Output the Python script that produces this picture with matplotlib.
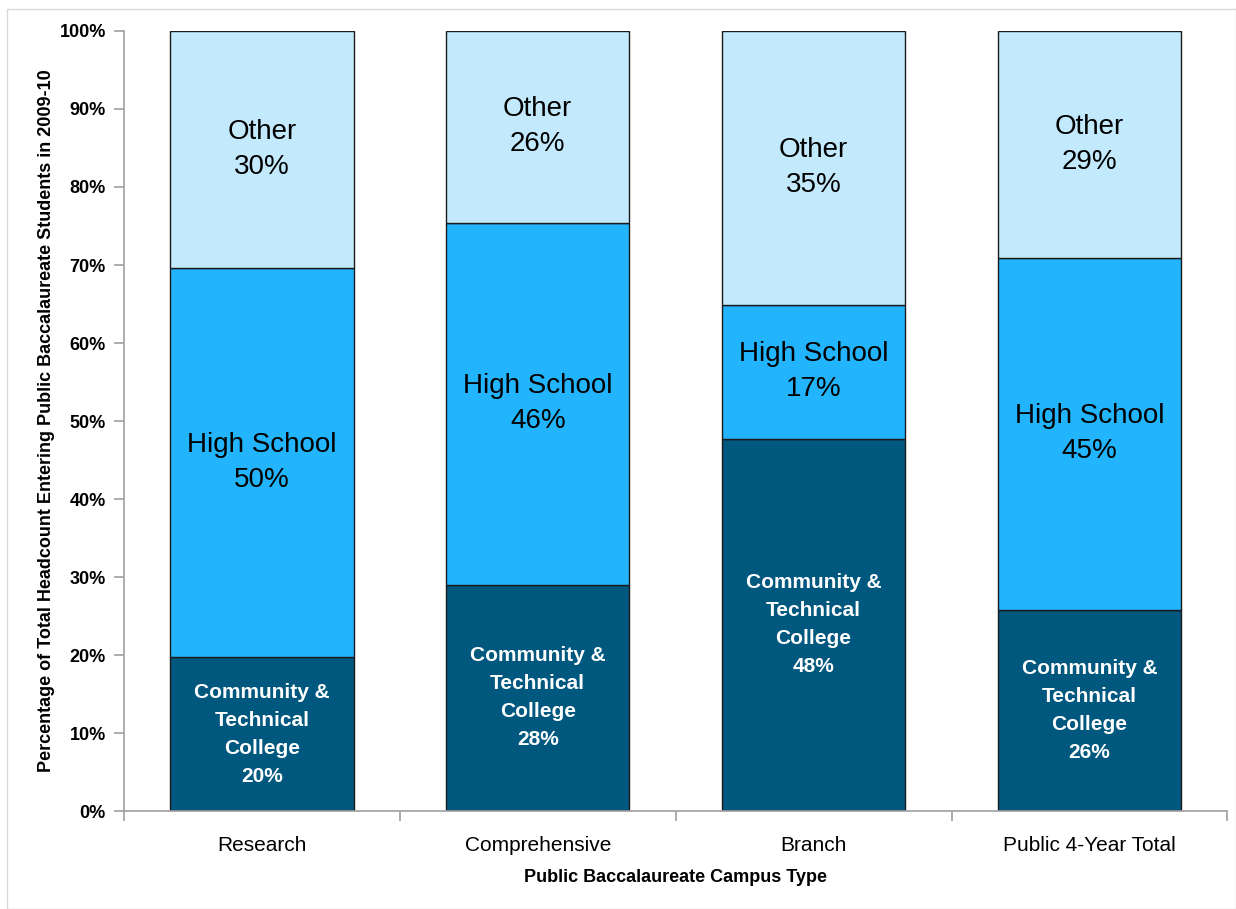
import matplotlib
matplotlib.use('Agg')
import matplotlib.pyplot as plt
from matplotlib.ticker import FixedLocator, PercentFormatter
import numpy as np

plt.rcParams['font.family'] = ['Liberation Sans Narrow', 'Liberation Sans', 'DejaVu Sans']

campus = ["Research", "Comprehensive", "Branch", "Public 4-Year Total"]
# segment heights
ctc = [19.7, 29.0, 47.7, 25.8]
high_school = [49.9, 46.4, 17.2, 45.1]
other = [30.4, 24.6, 35.1, 29.1]
# printed labels
ctc_lbl = ["20%", "28%", "48%", "26%"]
hs_lbl = ["50%", "46%", "17%", "45%"]
other_lbl = ["30%", "26%", "35%", "29%"]

c_dark = '#00587F'
c_mid = '#23B4FE'
c_light = '#C3EAFC'

fig = plt.figure(figsize=(12.36, 9.09), dpi=100)
ax = fig.add_axes([0.1003, 0.1078, 0.8927, 0.8581])

x = np.arange(len(campus))
w = 0.665
ctc = np.array(ctc)
high_school = np.array(high_school)
other = np.array(other)

ax.bar(x, ctc, w, color=c_dark, edgecolor='#1a1a1a', linewidth=1)
ax.bar(x, high_school, w, bottom=ctc, color=c_mid, edgecolor='#1a1a1a', linewidth=1)
ax.bar(x, other, w, bottom=ctc + high_school, color=c_light, edgecolor='#1a1a1a', linewidth=1)

for i in range(len(campus)):
    ax.text(x[i], ctc[i] / 2, "Community &\nTechnical\nCollege\n" + ctc_lbl[i],
            ha='center', va='center', color='white', fontsize=15, fontweight='bold',
            linespacing=1.6)
    ax.text(x[i], ctc[i] + high_school[i] / 2, "High School\n" + hs_lbl[i],
            ha='center', va='center', color='black', fontsize=20, linespacing=1.45)
    ax.text(x[i], ctc[i] + high_school[i] + other[i] / 2, "Other\n" + other_lbl[i],
            ha='center', va='center', color='black', fontsize=20, linespacing=1.45)

ax.set_xlim(-0.5, 3.5)
ax.set_ylim(0, 100)
ax.set_yticks(np.arange(0, 101, 10))
ax.yaxis.set_major_formatter(PercentFormatter(decimals=0))
ax.set_xticks(x)
ax.set_xticklabels(campus, fontsize=15)
ax.xaxis.set_minor_locator(FixedLocator(np.arange(-0.5, 4, 1)))
ax.tick_params(axis='x', which='major', length=0, pad=18)
ax.tick_params(axis='x', which='minor', length=7, color='#a0a0a0', width=1.2)
ax.tick_params(axis='y', length=7, color='#a0a0a0', width=1.2, labelsize=13, pad=6)
for lab in ax.get_yticklabels():
    lab.set_fontweight('bold')

for s in ['top', 'right']:
    ax.spines[s].set_visible(False)
for s in ['left', 'bottom']:
    ax.spines[s].set_color('#a0a0a0')
    ax.spines[s].set_linewidth(1.2)

ax.set_xlabel("Public Baccalaureate Campus Type", fontsize=13, fontweight='bold', labelpad=10)
ax.set_ylabel("Percentage of Total Headcount Entering Public Baccalaureate Students in 2009-10",
              fontsize=13, fontweight='bold', labelpad=3)

fig.patches.append(plt.Rectangle((0.006, 0.0), 0.994, 0.99, transform=fig.transFigure,
                                 fill=False, edgecolor='#d9d9d9', linewidth=1))

fig.savefig("out.png", dpi=100)
